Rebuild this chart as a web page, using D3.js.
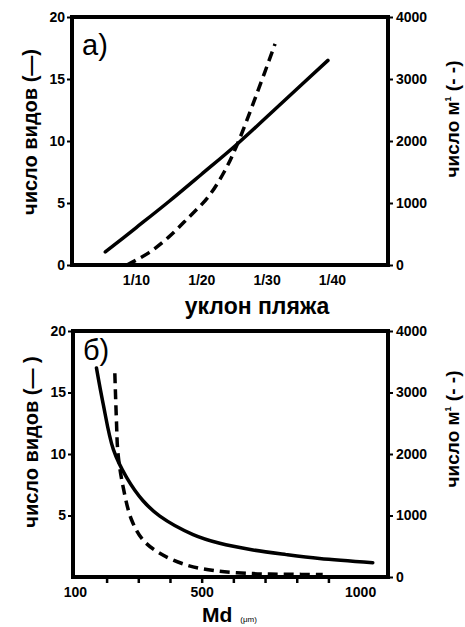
<!DOCTYPE html>
<html>
<head>
<meta charset="utf-8">
<script src="https://cdn.jsdelivr.net/npm/d3@7"></script>
<style>
  html, body { margin: 0; padding: 0; background: #fff; }
  svg { display: block; }
  text { font-family: Arial, "Liberation Sans", sans-serif; fill: #000; }
</style>
</head>
<body>
<svg id="chart" width="465" height="627"></svg>
<script>
// ---------- DATA ----------
// Panel a: x = beach slope denominator (1/x)
const slopeTickValues = [10, 20, 30, 40];
const slopeTickLabels = ["1/10", "1/20", "1/30", "1/40"];
const speciesA_x = [5.3, 10, 15, 20, 25.6, 32.5, 39.4];
const speciesA_y = [1.05, 3.0, 5.1, 7.3, 9.8, 13.15, 16.5];
const densityA_x = [8.6, 12, 15, 18, 21, 23.5, 25.6, 28.5, 31.3];
const densityA_y = [0, 200, 450, 760, 1090, 1500, 1968, 2760, 3565];

// Panel б: x = Md (µm)
const mdMajorTicks = [100, 500, 1000];
const mdMinorTicks = [200, 300, 400, 500, 600, 700, 800, 900];
const speciesB_x = [168, 189, 221, 263, 315, 368, 473, 557, 662, 767, 872, 1040];
const speciesB_y = [17.0, 14.1, 10.4, 8.1, 6.2, 4.95, 3.45, 2.74, 2.2, 1.82, 1.5, 1.16];
const densityB_x = [226, 231, 236, 252, 279, 315, 368, 452, 546, 662, 767, 882];
const densityB_y = [3312, 2553, 2011, 1468, 927, 602, 385, 195, 100, 55, 45, 40];

const leftTicksA = [0, 5, 10, 15, 20];
const leftTicksB = [5, 10, 15, 20];
const rightTicks = [0, 1000, 2000, 3000, 4000];

// ---------- DRAW ----------
const svg = d3.select("#chart");

function zip(xs, ys) { return xs.map((x, i) => [x, ys[i]]); }

function panel(cfg) {
  const g = svg.append("g");
  const x = d3.scaleLinear().domain(cfg.xDomain).range([cfg.left, cfg.right]);
  const yL = d3.scaleLinear().domain([0, 20]).range([cfg.bottom, cfg.top]);
  const yR = d3.scaleLinear().domain([0, 4000]).range([cfg.bottom, cfg.top]);

  // left axis
  const axL = g.append("g").attr("transform", `translate(${cfg.left - 2},0)`)
    .call(d3.axisLeft(yL).tickValues(cfg.leftTicks).tickSize(3).tickPadding(2).tickFormat(d3.format("d")));
  axL.select(".domain").remove();
  axL.selectAll("line").attr("stroke", "#000").attr("stroke-width", 2);
  axL.selectAll("text").style("font-size", "14px").style("font-weight", "bold");

  // right axis
  const axR = g.append("g").attr("transform", `translate(${cfg.right + 2},0)`)
    .call(d3.axisRight(yR).tickValues(rightTicks).tickSize(3).tickPadding(3).tickFormat(d3.format("d")));
  axR.select(".domain").remove();
  axR.selectAll("line").attr("stroke", "#000").attr("stroke-width", 2);
  axR.selectAll("text").style("font-size", "14px").style("font-weight", "bold");

  // bottom axis
  cfg.drawX(g, x);

  // frame
  g.append("rect")
    .attr("x", cfg.left).attr("y", cfg.top)
    .attr("width", cfg.right - cfg.left).attr("height", cfg.bottom - cfg.top)
    .attr("fill", "none").attr("stroke", "#000").attr("stroke-width", 4);

  const lineL = d3.line().x(d => x(d[0])).y(d => yL(d[1])).curve(d3.curveCatmullRom.alpha(0.5));
  const lineR = d3.line().x(d => x(d[0])).y(d => yR(d[1])).curve(d3.curveCatmullRom.alpha(0.5));

  g.append("path").datum(zip(cfg.sx, cfg.sy)).attr("d", lineL)
    .attr("fill", "none").attr("stroke", "#000").attr("stroke-width", 3.5).attr("stroke-linecap", "round");
  g.append("path").datum(zip(cfg.dx, cfg.dy)).attr("d", lineR)
    .attr("fill", "none").attr("stroke", "#000").attr("stroke-width", 3.5)
    .attr("stroke-dasharray", "10,6");

  // panel letter
  g.append("text").attr("x", cfg.left + 10).attr("y", cfg.letterY)
    .style("font-size", "29px").text(cfg.letter);

  // y titles
  g.append("text")
    .attr("transform", `translate(${cfg.left - 35},${cfg.lTitleY}) rotate(-90)`)
    .attr("text-anchor", "middle").style("font-size", "20px").style("font-weight", "bold")
    .text(cfg.lTitle);
  const rt = g.append("text")
    .attr("transform", `translate(${cfg.right + 71},${cfg.rTitleY}) rotate(-90)`)
    .attr("text-anchor", "middle").style("font-size", "19px").style("font-weight", "bold");
  rt.append("tspan").text("число м");
  rt.append("tspan").attr("dy", -8).style("font-size", "9px").text("1");
  rt.append("tspan").attr("dy", 8).text(" (- -)");
}

// panel a
panel({
  left: 72, right: 388, top: 17, bottom: 265,
  xDomain: [0.2, 48.6],
  leftTicks: leftTicksA,
  sx: speciesA_x, sy: speciesA_y, dx: densityA_x, dy: densityA_y,
  letter: "а)", letterY: 55,
  lTitle: "число видов (—)", lTitleY: 132,
  rTitleY: 119,
  drawX: (g, x) => {
    const ax = g.append("g").attr("transform", "translate(0,266)")
      .call(d3.axisBottom(x).tickValues(slopeTickValues).tickSize(0).tickPadding(9)
        .tickFormat((d, i) => slopeTickLabels[i]));
    ax.select(".domain").remove();
    ax.selectAll("text").style("font-size", "14px").style("font-weight", "bold");
    g.append("text").attr("x", 257).attr("y", 314).attr("text-anchor", "middle")
      .style("font-size", "23px").style("font-weight", "bold").text("уклон пляжа");
  }
});

// panel б
panel({
  left: 73, right: 388, top: 331, bottom: 577,
  xDomain: [94, 1088],
  leftTicks: leftTicksB,
  sx: speciesB_x, sy: speciesB_y, dx: densityB_x, dy: densityB_y,
  letter: "б)", letterY: 360,
  lTitle: "число видов (— )", lTitleY: 442,
  rTitleY: 429,
  drawX: (g, x) => {
    const minor = g.append("g").attr("transform", "translate(0,579)")
      .call(d3.axisBottom(x).tickValues(mdMinorTicks).tickSize(4).tickFormat(""));
    minor.select(".domain").remove();
    minor.selectAll("line").attr("stroke", "#000").attr("stroke-width", 2.5);
    const major = g.append("g").attr("transform", "translate(0,579)")
      .call(d3.axisBottom(x).tickValues(mdMajorTicks).tickSize(0).tickPadding(8).tickFormat(d3.format("d")));
    major.select(".domain").remove();
    major.selectAll("text").style("font-size", "14px").style("font-weight", "bold");
    const t = g.append("text").attr("x", 202).attr("y", 622);
    t.append("tspan").style("font-size", "21px").style("font-weight", "bold").text("Md");
    t.append("tspan").attr("dx", 8).style("font-size", "8px").text("(μm)");
  }
});
</script>
</body>
</html>
